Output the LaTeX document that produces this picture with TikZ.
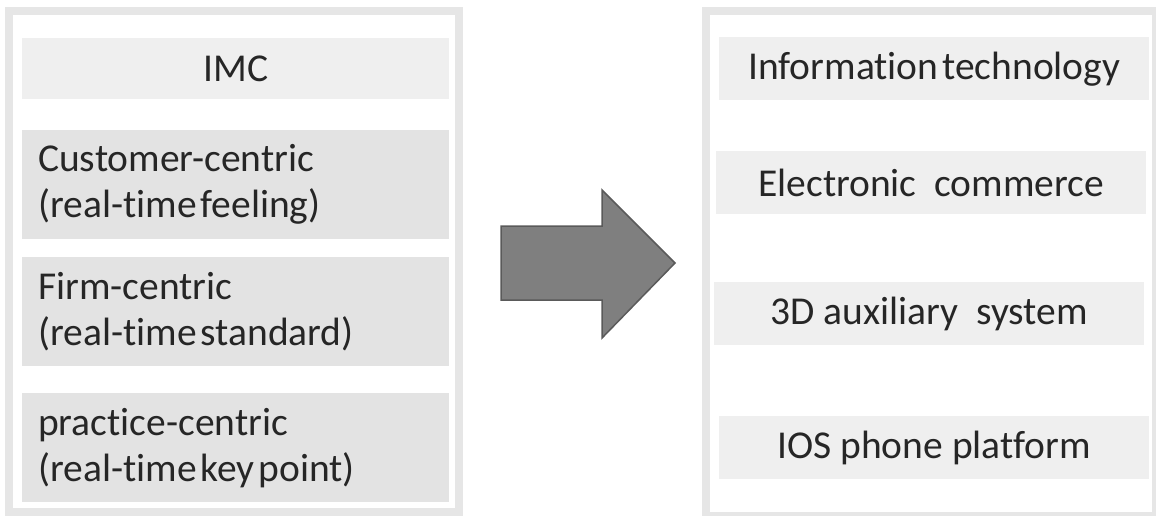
\documentclass[tikz,border=0pt]{standalone}
\usepackage{fontspec}
\setmainfont[Ligatures=NoCommon]{Carlito}
\usetikzlibrary{positioning}
\definecolor{framegray}{HTML}{E6E6E6}
\definecolor{boxgray}{HTML}{E3E3E3}
\definecolor{palegray}{HTML}{EFEFEF}
\definecolor{arrowfill}{HTML}{7F7F7F}
\definecolor{arrowline}{HTML}{5A5A5A}
% narrow word gaps
\newcommand{\tightsp}{\spaceskip=0.1em plus 0.02em\relax}

\begin{document}
\begin{tikzpicture}[x=1pt,y=-1pt,font=\fontsize{39.5}{46}\selectfont,text=black!85,
  frame/.style={draw=framegray,line width=8pt},
  head/.style={anchor=north west,fill=palegray,inner sep=0pt,minimum width=427pt,minimum height=61pt},
  item/.style={anchor=north west,fill=boxgray,inner xsep=16pt,inner ysep=0pt,align=left,text width=395pt,minimum height=109pt,
    execute at begin node=\tightsp},
  tool/.style={anchor=north west,fill=palegray,inner sep=0pt,align=center,minimum width=430pt,minimum height=63pt}]
  \useasboundingbox (0,0) rectangle (1156,516);
  \clip (0,0) rectangle (1156,516);
  % two frames
  \draw[frame] (9,11) rectangle (459,512);
  \draw[frame] (706,11) rectangle (1156,516);
  % left column
  \node[head] (imc) at (22,38) {IMC};
  \node[item] (customer) at (22,130) {Customer-centric\\(real-time feeling)};
  \node[item] (firm) at (22,257) {Firm-centric\\(real-time standard)};
  \node[item] (practice) at (22,393) {practice-centric\\(real-time key point)};
  % right column
  \node[tool] (infotech) at (719,37) {\tightsp Information technology};
  \node[tool] (ecommerce) at (716,151) {Electronic\ \ commerce};
  \node[tool] (auxiliary) at (714,282) {3D auxiliary\ \ system};
  \node[tool] (ios) at (719,416) {IOS phone platform};
  % block arrow between the frames
  \draw[fill=arrowfill,draw=arrowline,line width=1.5pt,line join=miter]
    (501,226) -- (602,226) -- (602,190) -- (675,263) -- (602,338) -- (602,300) -- (501,300) -- cycle;
\end{tikzpicture}
\end{document}
